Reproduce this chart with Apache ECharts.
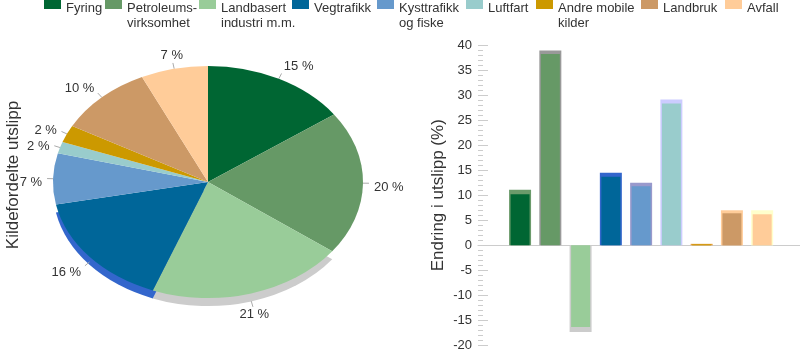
<!DOCTYPE html>
<html>
<head>
<meta charset="utf-8">
<script src="https://cdn.jsdelivr.net/npm/echarts@6/dist/echarts.min.js"></script>
<style>
  html, body { margin: 0; padding: 0; background: #fff; }
  #chart { width: 800px; height: 352px; }
</style>
</head>
<body>
<div id="chart"></div>
<script>
// share of emissions by source (%) and change in emissions (%)
const categories = ['Fyring', 'Petroleums-\nvirksomhet', 'Landbasert\nindustri m.m.', 'Vegtrafikk', 'Kysttrafikk\nog fiske', 'Luftfart', 'Andre mobile\nkilder', 'Landbruk', 'Avfall'];
const shares = [15.1, 20.1, 20.6, 16.1, 7.1, 1.6, 2.4, 10.0, 7.0];
const change = [10.2, 38.2, -16.3, 13.7, 11.8, 28.3, 0.2, 6.4, 6.2];
const changeBack = [11.1, 38.9, -17.3, 14.5, 12.5, 29.1, 0.3, 7.0, 7.0];

const colors = ['#006633', '#669966', '#99cc99', '#006699', '#6699cc', '#99cccc', '#cc9900', '#cc9966', '#ffcc99'];
const edgeColors = ['#6b9b6b', '#999999', '#cccccc', '#3366cc', '#9999cc', '#ccccff', '#e8a040', '#ffcc99', '#ffffcc'];
const depthSlices = [2, 3];

// legend item x positions (layout only)
const legendLeft = [44, 105, 199, 292, 377, 466, 536, 641, 725];

const FONT = "'Liberation Sans', Arial, sans-serif";
const PIE = { cx: 208, cy: 182, rx: 155, ry: 116, depth: 8 };
const LABEL = { cy: 186, rx: 166, ry: 134 };

const chart = echarts.init(document.getElementById('chart'));

const total = shares.reduce((a, b) => a + b, 0);
const starts = [];
let acc = 0;
shares.forEach(v => { starts.push(acc); acc += v; });

function renderSlice(params, api) {
  const i = params.dataIndex;
  const a0 = starts[i] / total * 2 * Math.PI - Math.PI / 2;
  const a1 = a0 + api.value(0) / total * 2 * Math.PI;
  const mid = (a0 + a1) / 2;
  const c = Math.cos(mid), s = Math.sin(mid);

  const slice = { type: 'group', x: PIE.cx, y: PIE.cy, scaleX: PIE.rx / PIE.ry, children: [] };
  if (depthSlices.includes(i)) {
    slice.children.push({
      type: 'sector', z2: 0,
      shape: { cx: 0, cy: PIE.depth, r: PIE.ry, startAngle: a0, endAngle: a1, clockwise: true },
      style: { fill: edgeColors[i] }
    });
  }
  slice.children.push({
    type: 'sector', z2: 10,
    shape: { cx: 0, cy: 0, r: PIE.ry, startAngle: a0, endAngle: a1, clockwise: true },
    style: { fill: colors[i] }
  });

  const dy = s > 0 ? PIE.depth * s : 0;
  const ex = PIE.cx + PIE.rx * c, ey = PIE.cy + PIE.ry * s + dy;
  const lx = ex + 6 * c, ly = ey + 6 * s;
  const tx = PIE.cx + LABEL.rx * c, ty = LABEL.cy + LABEL.ry * s;

  return {
    type: 'group',
    children: [
      slice,
      { type: 'line', z2: 5, shape: { x1: ex, y1: ey, x2: lx, y2: ly }, style: { stroke: '#aaaaaa', lineWidth: 1 } },
      {
        type: 'text', z2: 20, x: tx, y: ty,
        style: {
          text: Math.round(api.value(0)) + ' %',
          fill: '#333', font: '13px ' + FONT,
          align: c > 0.3 ? 'left' : (c < -0.3 ? 'right' : 'center'),
          verticalAlign: 'middle'
        }
      }
    ]
  };
}

const frontSeries = categories.map((name, i) => ({
  name: name,
  type: 'bar',
  xAxisIndex: 0,
  yAxisIndex: 0,
  barWidth: 19,
  barGap: '-100%',
  z: 3,
  itemStyle: { color: colors[i] },
  data: [[i, change[i]]]
}));

const backSeries = categories.map((name, i) => ({
  name: name,
  type: 'bar',
  xAxisIndex: 1,
  yAxisIndex: 0,
  barWidth: 22,
  barGap: '-100%',
  z: 2,
  itemStyle: { color: edgeColors[i] },
  data: [[i, changeBack[i]]]
}));

// icon: 17x10 box at the top of a 17x33 slot so it lines up with the first text line
const legendIcon = 'path://M0,0L17,0L17,10L0,10Z M0,33L0.01,33L0,33.01Z';

const legends = categories.map((name, i) => ({
  left: legendLeft[i],
  top: -1,
  padding: 0,
  itemWidth: 17,
  itemHeight: 33,
  selectedMode: false,
  icon: legendIcon,
  formatter: n => (n.indexOf('\n') >= 0 ? n : n + '\n '),
  textStyle: { fontSize: 13, color: '#333', lineHeight: 15 },
  data: [name]
}));

const option = {
  animation: false,
  textStyle: { fontFamily: FONT },
  legend: legends,
  graphic: [{
    type: 'text',
    x: 13,
    y: 175,
    rotation: Math.PI / 2,
    style: { text: 'Kildefordelte utslipp', font: '17px ' + FONT, fill: '#333', align: 'center', verticalAlign: 'middle' }
  }],
  grid: { left: 478, right: 0, top: 45, bottom: 5, containLabel: false },
  xAxis: [
    {
      type: 'value', min: -1.39, max: 9.25,
      axisLabel: { show: false }, axisTick: { show: false }, splitLine: { show: false },
      axisLine: { show: true, onZero: true, lineStyle: { color: '#cccccc' } }
    },
    { type: 'value', min: -1.39, max: 9.25, show: false }
  ],
  yAxis: {
    type: 'value', min: -20, max: 40, interval: 5,
    name: 'Endring i utslipp (%)',
    nameLocation: 'middle',
    nameGap: 31,
    nameTextStyle: { fontSize: 17, color: '#333' },
    axisLine: { show: false, onZero: false },
    axisTick: { show: true, inside: true, length: 10, lineStyle: { color: '#cccccc' } },
    minorTick: { show: true, splitNumber: 5, length: 5, lineStyle: { color: '#cccccc' } },
    splitLine: { show: false },
    axisLabel: { color: '#333', fontSize: 13, margin: 6 }
  },
  series: [
    {
      name: 'Kildefordeling',
      type: 'custom',
      coordinateSystem: 'none',
      renderItem: renderSlice,
      data: shares.map((v, i) => ({ name: 'pie' + i, value: v }))
    }
  ].concat(frontSeries, backSeries)
};

chart.setOption(option);
</script>
</body>
</html>
